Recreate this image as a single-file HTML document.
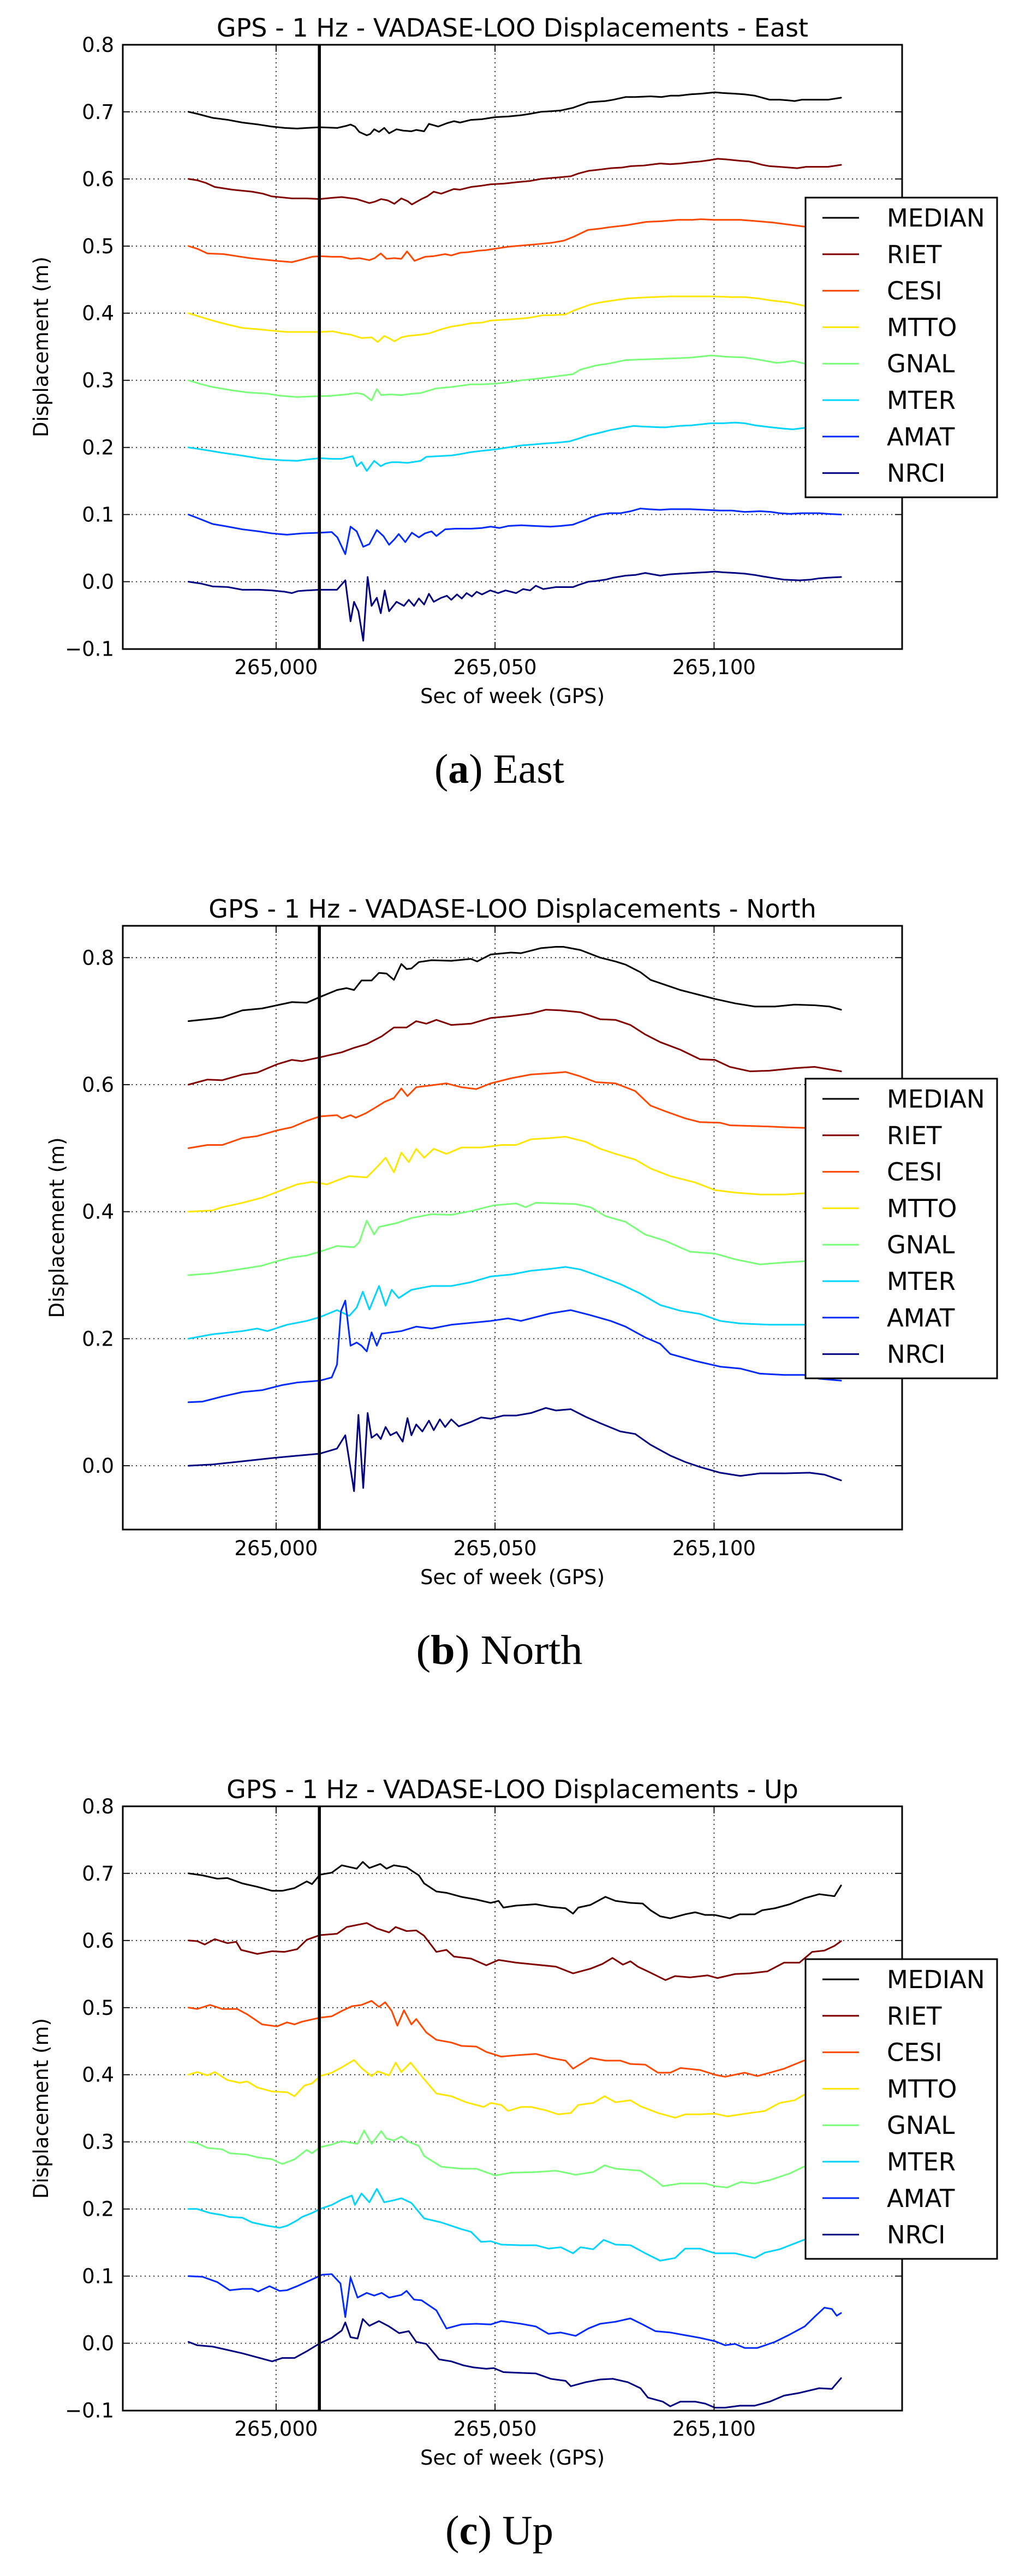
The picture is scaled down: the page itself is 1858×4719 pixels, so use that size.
<!DOCTYPE html>
<html><head><meta charset="utf-8"><title>VADASE-LOO Displacements</title>
<style>
html,body{margin:0;padding:0;background:#fff;}
svg{display:block;}
.t{font-family:"DejaVu Sans","Liberation Sans",sans-serif;fill:#000;}
.cap{font-family:"Liberation Serif","DejaVu Serif",serif;fill:#000;}
.g{stroke:#000;stroke-width:1.8;stroke-dasharray:2.2,5.8;fill:none;opacity:0.85}
.tk{stroke:#000;stroke-width:1.8;}
.s{fill:none;stroke-width:3;stroke-linejoin:round;stroke-linecap:round;}
</style></head>
<body>
<svg xmlns="http://www.w3.org/2000/svg" width="1858" height="4719" viewBox="0 0 1858 4719">
<rect x="0" y="0" width="1858" height="4719" fill="#fff"/>

<!-- ================= CHART A (East) ================= -->
<g>
<text class="t" x="939" y="67" font-size="46" text-anchor="middle">GPS - 1 Hz - VADASE-LOO Displacements - East</text>
<!-- y grid -->
<g class="g">
<line x1="225" y1="204.8" x2="1653" y2="204.8"/><line x1="225" y1="327.8" x2="1653" y2="327.8"/>
<line x1="225" y1="450.8" x2="1653" y2="450.8"/><line x1="225" y1="573.7" x2="1653" y2="573.7"/>
<line x1="225" y1="696.7" x2="1653" y2="696.7"/><line x1="225" y1="819.7" x2="1653" y2="819.7"/>
<line x1="225" y1="942.6" x2="1653" y2="942.6"/><line x1="225" y1="1065.6" x2="1653" y2="1065.6"/>
<line x1="505.9" y1="82" x2="505.9" y2="1189"/><line x1="907.1" y1="82" x2="907.1" y2="1189"/><line x1="1308.4" y1="82" x2="1308.4" y2="1189"/>
</g>
<g transform="translate(505.9,1065.6) scale(8.025,-1.2297)">
<polyline class="s" vector-effect="non-scaling-stroke" stroke="#000000" points="-20,700 -18,697 -14.5,691 -11,688 -7.7,684 -4,681 -1,678 2,676 4.8,675 7,676 10,677 14,676 16,679 17,681 18,678 19,670 20.7,665 21.5,667 22.4,674 23.5,670 24.7,676 25.8,668 27.5,674 29,672 30.9,671 32,673 33.8,671 34.9,682 36,680 37,678 39,683 40.6,686 42,684 44.5,688 47,689 50,692 53,693 56,695 58,697 60.5,700 63,701 65,702 67.8,706 69.5,710 71.3,714 73,715 75.2,716 77,718 79.8,722 82,722 85.5,723 88,722 90,724 92,724 94.5,726 97,727 100.2,729 102,728 104.8,727 107,726 109.3,724 111,721 112.7,718 115,718 117,717 118.4,716 120,718 123,718 126,718 129,721"/>
<polyline class="s" vector-effect="non-scaling-stroke" stroke="#800000" points="-20,600 -18,598 -16,594 -14,588 -10,584 -5.5,581 -3,578 -1,574 3.6,571 7,571 10,570 13,572 15,573 18.4,570 21.3,564 22.5,566 24,570 25.5,568 27,563 28.6,571 30,567 31,562 33.2,570 34.5,574 36,581 37.7,578 40.6,585 42,584 44.5,588 47,590 49,592 52,593 54.8,595 58,597 60.5,600 64,602 67.3,604 69,608 71.3,612 74,614 76.4,616 79,617 81,619 84,620 87.7,623 90,622 92.3,623 95,625 96.8,626 99,628 100.8,630 103,629 106,627 108,626 109.3,624 111,621 112.7,619 115,618 117,617 119,616 121,618 124,618 126,618 129,621"/>
<polyline class="s" vector-effect="non-scaling-stroke" stroke="#ff4900" points="-20,500 -18,496 -15.7,489 -12,488 -8,484 -6,482 -3,480 0,478 3.6,476 6,480 8.2,484 10,485 12.7,484 15,484 17,481 19,482 21.3,479 22.5,482 23.9,489 25.2,481 27,482 28.6,481 29.9,492 31.6,478 34,484 36,485 38.6,488 40,486 42,490 44,491 46,493 48,494 50,496 53,499 56.5,501 60,503 63,505 65.7,508 68,514 71.2,524 74,526 76,528 80,531 84.5,536 88,537 91.7,539 95,539 97,540 100,539 103,539 106,539 110,537 113.5,535 117,532 120.6,529 124,527 129,526"/>
<polyline class="s" vector-effect="non-scaling-stroke" stroke="#ffe600" points="-20,400 -18,396 -14.5,389 -11,383 -7.7,378 -4,376 -1,374 2.5,372 6,372 10,372 13,373 15,370 17,368 19.5,363 21.8,364 23.2,357 24.7,366 26,362 27,358 28.6,364 30,366 33,368 35,370 37.7,376 40,380 42,382 44.5,385 47,386 49,389 51.4,390 54,391 57.6,393 61,397 63,397 66,398 68,404 71.8,413 74,416 77,419 80.3,422 83,423 86,424 90,425 95,425 100,425 104,424 107,424 110,422 113,419 117,416 120.6,411 124,410 129,409"/>
<polyline class="s" vector-effect="non-scaling-stroke" stroke="#7bff7b" points="-20,300 -17,294 -14.5,290 -10,285 -6.6,282 -2,280 1,277 4.8,275 8,276 12.7,277 16,279 18.4,281 20,279 21.8,270 23,287 24,278 26,279 28.6,278 31,280 33,281 35,285 36.6,288 40,290 44.5,294 47,294 50,295 53,297 56,300 59,302 61.6,304 64,306 67.7,309 69.5,316 73,322 76,325 79.7,330 83,331 87.6,332 92,333 95,334 99.3,337 103,335 107,334 110,331 114.3,326 116,327 118,329 120.6,325 124,324 129,324"/>
<polyline class="s" vector-effect="non-scaling-stroke" stroke="#00d4ff" points="-20,200 -16,196 -12.3,192 -8,188 -3.2,183 1,181 4.8,180 7,182 10,184 13,183 15,183 17.5,187 18.4,172 19.5,178 20.7,165 22.4,180 23.9,172 25,176 26.4,178 28,178 30,177 33,180 34.3,186 37,187 40,188 42,190 44.5,193 47,195 50,197 53,200 56,203 58,204 61.6,206 64,207 67,209 69,213 71.3,218 74,222 76.4,226 79,229 81.6,232 84,231 87.7,230 89,230 92,232 95,233 99.3,236 102,236 104.8,237 107,236 109.3,233 113,230 116,228 118,227 120.5,229 124,229 129,229"/>
<polyline class="s" vector-effect="non-scaling-stroke" stroke="#002aff" points="-20,100 -18,95 -14.5,86 -11,82 -7.7,78 -4,75 -1,72 2.5,70 6,72 10,73 12.7,74 14,66 15.8,41 17,82 18.4,75 19.9,52 21.3,56 23,77 24.5,68 25.8,55 27,63 28,71 29.5,59 31,73 32.6,66 34,72 35.5,75 36.6,68 38.6,78 41,79 44.5,79 47,80 49,82 51,80 53,83 56,84 59,83 62.7,82 65,83 67.8,85 69,88 70.7,92 72,96 74,100 76,102 78.6,102 81,105 83.2,109 85,108 87.7,107 90,108 94.5,108 98,107 101.4,106 104,106 107,104 110.5,105 113,104 115,102 117.3,101 120,102 124,102 126,101 129,100"/>
<polyline class="s" vector-effect="non-scaling-stroke" stroke="#000080" points="-20,0 -17,-3 -14.5,-7 -11,-8 -7.7,-12 -4,-12 -1,-13 2,-15 3.6,-17 5,-14 7,-13 10,-12 13.9,-12 15.8,2 17,-59 17.8,-30 18.8,-44 19.9,-88 20.9,7 21.8,-36 23,-24 23.9,-47 24.8,-13 25.8,-44 27.5,-30 29.2,-36 30.3,-27 31.5,-36 32.6,-25 33.8,-34 34.9,-18 36,-30 37.7,-24 39,-21 40,-27 41.3,-19 42.4,-25 43.5,-17 44.7,-22 45.8,-15 47,-19 48.9,-13 50.7,-17 52.4,-13 54.8,-17 56.4,-11 58,-13 59.3,-6 61,-11 63.9,-8 67.8,-8 69,-5 71.3,0 73,1 75.2,3 77,6 79.8,9 82,10 84.3,13 86,11 87.7,9 90,11 92.3,12 95,13 98,14 100.2,15 102,14 104.8,13 107,12 109.3,10 111,8 113.9,5 116,3 119.5,2 122,3 124,5 126,6 129,7"/>
</g>
<line x1="585.2" y1="82" x2="585.2" y2="1189" stroke="#000" stroke-width="5.5"/>
<!-- ticks -->
<g class="tk">
<line x1="225" y1="204.8" x2="238" y2="204.8"/><line x1="225" y1="327.8" x2="238" y2="327.8"/><line x1="225" y1="450.8" x2="238" y2="450.8"/><line x1="225" y1="573.7" x2="238" y2="573.7"/><line x1="225" y1="696.7" x2="238" y2="696.7"/><line x1="225" y1="819.7" x2="238" y2="819.7"/><line x1="225" y1="942.6" x2="238" y2="942.6"/><line x1="225" y1="1065.6" x2="238" y2="1065.6"/>
<line x1="1640" y1="204.8" x2="1653" y2="204.8"/><line x1="1640" y1="327.8" x2="1653" y2="327.8"/><line x1="1640" y1="450.8" x2="1653" y2="450.8"/><line x1="1640" y1="573.7" x2="1653" y2="573.7"/><line x1="1640" y1="696.7" x2="1653" y2="696.7"/><line x1="1640" y1="819.7" x2="1653" y2="819.7"/><line x1="1640" y1="942.6" x2="1653" y2="942.6"/><line x1="1640" y1="1065.6" x2="1653" y2="1065.6"/>
<line x1="505.9" y1="1189" x2="505.9" y2="1176"/><line x1="907.1" y1="1189" x2="907.1" y2="1176"/><line x1="1308.4" y1="1189" x2="1308.4" y2="1176"/>
<line x1="505.9" y1="82" x2="505.9" y2="95"/><line x1="907.1" y1="82" x2="907.1" y2="95"/><line x1="1308.4" y1="82" x2="1308.4" y2="95"/>
</g>
<rect x="225" y="82" width="1428" height="1107" fill="none" stroke="#000" stroke-width="3"/>
<g class="t" font-size="37" text-anchor="end">
<text x="209" y="94.8">0.8</text><text x="209" y="217.8">0.7</text><text x="209" y="340.8">0.6</text><text x="209" y="463.8">0.5</text><text x="209" y="586.7">0.4</text><text x="209" y="709.7">0.3</text><text x="209" y="832.7">0.2</text><text x="209" y="955.6">0.1</text><text x="209" y="1078.6">0.0</text><text x="209" y="1201.6">−0.1</text>
</g>
<g class="t" font-size="37" text-anchor="middle">
<text x="505.9" y="1235">265,000</text><text x="907.1" y="1235">265,050</text><text x="1308.4" y="1235">265,100</text>
<text x="939" y="1288">Sec of week (GPS)</text>
</g>
<text class="t" font-size="37" text-anchor="middle" transform="translate(88,635.5) rotate(-90)">Displacement (m)</text>
<!-- legend -->
<rect x="1476" y="362" width="351" height="549" fill="#fff" stroke="#000" stroke-width="3"/>
<g stroke-width="3">
<line x1="1507" y1="399" x2="1574" y2="399" stroke="#000000"/>
<line x1="1507" y1="465.8" x2="1574" y2="465.8" stroke="#800000"/>
<line x1="1507" y1="532.6" x2="1574" y2="532.6" stroke="#ff4900"/>
<line x1="1507" y1="599.4" x2="1574" y2="599.4" stroke="#ffe600"/>
<line x1="1507" y1="666.2" x2="1574" y2="666.2" stroke="#7bff7b"/>
<line x1="1507" y1="733" x2="1574" y2="733" stroke="#00d4ff"/>
<line x1="1507" y1="799.8" x2="1574" y2="799.8" stroke="#002aff"/>
<line x1="1507" y1="866.6" x2="1574" y2="866.6" stroke="#000080"/>
</g>
<g class="t" font-size="45">
<text x="1625" y="415">MEDIAN</text><text x="1625" y="481.8">RIET</text><text x="1625" y="548.6">CESI</text><text x="1625" y="615.4">MTTO</text><text x="1625" y="682.2">GNAL</text><text x="1625" y="749">MTER</text><text x="1625" y="815.8">AMAT</text><text x="1625" y="882.6">NRCI</text>
</g>
<text class="cap" x="915" y="1434" font-size="76" text-anchor="middle" textLength="238" lengthAdjust="spacingAndGlyphs">(<tspan font-weight="bold">a</tspan>) East</text>
</g>

<!-- ================= CHART B (North) ================= -->
<g>
<text class="t" x="939" y="1681" font-size="46" text-anchor="middle">GPS - 1 Hz - VADASE-LOO Displacements - North</text>
<g class="g">
<line x1="225" y1="1754.3" x2="1653" y2="1754.3"/><line x1="225" y1="1987" x2="1653" y2="1987"/>
<line x1="225" y1="2219.7" x2="1653" y2="2219.7"/><line x1="225" y1="2452.4" x2="1653" y2="2452.4"/>
<line x1="225" y1="2685.1" x2="1653" y2="2685.1"/>
<line x1="505.9" y1="1696" x2="505.9" y2="2802"/><line x1="907.1" y1="1696" x2="907.1" y2="2802"/><line x1="1308.4" y1="1696" x2="1308.4" y2="2802"/>
</g>
<g transform="translate(505.9,2685.1) scale(8.025,-1.1635)">
<polyline class="s" vector-effect="non-scaling-stroke" stroke="#000000" points="-20,700 -14.5,704 -12.3,706 -7.7,717 -3.2,720 0.2,725 3.6,730 7,729 10,738 13.9,749 16.1,752 17.8,749 19.5,764 21.8,764 23.5,776 25.2,775 26.9,765 28.6,790 29.8,782 30.9,783 32.6,793 35.5,796 40,795 44.5,798 45.9,794 49,805 53.6,808 55.9,807 60.5,815 63.9,817 65.6,817 69.5,812 74,800 77.5,794 79.8,789 83.2,777 85.5,765 88.9,757 92.3,749 95.7,743 100.2,735 104.8,728 109.3,723 113.9,723 118.4,726 123,725 126.4,723 129,718"/>
<polyline class="s" vector-effect="non-scaling-stroke" stroke="#800000" points="-20,600 -15.7,608 -12.3,607 -7.7,616 -4.3,619 0.2,632 3.6,639 5.9,637 10,643 15,651 17.8,658 20.7,664 24.1,676 26.9,690 29.8,690 32,700 34.3,696 36.6,702 40,694 44.5,696 49,705 53.6,708 58.2,712 61.6,718 65,717 69.5,714 74,703 77.5,702 80.9,694 84.3,679 87.7,667 92.3,655 96.8,640 100.2,639 103.6,628 108.2,621 112.7,622 118.4,626 123,628 129,621"/>
<polyline class="s" vector-effect="non-scaling-stroke" stroke="#ff4900" points="-20,500 -15.7,505 -12.3,505 -7.7,516 -4.3,519 0.2,528 3.6,533 7,543 10,550 13.9,552 15,547 17,552 18.2,548 20.5,555 22.7,564 24.8,573 26.9,579 28.6,594 30,582 32,596 35.5,599 38.9,602 42.3,596 45.7,593 49,602 53.6,610 58.2,616 62.7,618 66.1,620 69.5,613 73,604 77.5,602 82,590 85.5,567 88.9,558 93.4,547 96.8,541 101.4,540 103.6,536 108.2,535 112.7,534 116,533 120.5,532 129,530"/>
<polyline class="s" vector-effect="non-scaling-stroke" stroke="#ffe600" points="-20,400 -14.5,402 -12.3,407 -7.7,414 -3.2,422 0.2,431 4.8,443 8.2,447 11.6,443 15,452 16.7,456 20.7,454 23,470 25,485 26.9,462 28.6,493 30.3,478 32,499 33.8,485 36,499 38.9,491 42.3,501 46.8,501 51.4,505 54.8,505 58.2,514 62.7,516 66.1,518 70.7,510 74,499 77.5,491 82,482 85.5,468 90,456 95.7,446 100.2,434 104.8,430 110.5,427 116,427 120.5,429 129,430"/>
<polyline class="s" vector-effect="non-scaling-stroke" stroke="#7bff7b" points="-20,300 -14.5,303 -7.7,310 -3.2,315 0.2,322 3.6,328 7,331 10,337 13.9,346 17.8,344 19,352 20.7,386 22.4,364 23.5,376 27.5,382 30.9,390 35.5,396 40,395 44.5,401 49.7,410 54.8,413 57,407 59.3,414 63.9,413 68.4,412 71.8,407 75.2,393 79.8,384 84.3,364 88.9,354 94.5,337 100.2,334 104.8,325 110.5,317 116,320 120.5,322 129,322"/>
<polyline class="s" vector-effect="non-scaling-stroke" stroke="#00d4ff" points="-20,200 -14.5,207 -7.7,212 -4.3,216 -2,212 2.5,222 7,228 10,234 13.9,245 16.7,236 18.4,249 19.8,274 21.3,246 23.5,283 25,252 26.4,277 28,264 30.9,277 35.5,283 40,283 44.5,289 49,298 53.6,301 58.2,307 62.7,310 66.1,313 69.5,309 74,298 78.6,286 83.2,271 87.7,253 92.3,244 96.8,239 101.4,228 106,224 112.7,222 120.5,222 129,222"/>
<polyline class="s" vector-effect="non-scaling-stroke" stroke="#002aff" points="-20,100 -16.8,101 -12.3,109 -7.7,116 -3.2,119 1.4,127 4.8,131 10,134 12.7,139 13.9,159 14.8,243 15.8,260 17,189 18.4,194 19.5,189 20.7,180 21.8,210 23,189 24.1,208 28.6,212 32,219 35.5,216 40,222 44.5,225 49,228 53,232 55.9,228 59.3,234 62.7,240 67.3,245 71.8,237 76.4,228 79.8,219 84.3,202 87.7,192 90,176 95.7,165 101.4,156 106,153 110.5,145 116,143 120.5,143 124,137 129,134"/>
<polyline class="s" vector-effect="non-scaling-stroke" stroke="#000080" points="-20,0 -14.5,2 -7.7,7 -1,12 3.6,15 10,19 13.9,27 15.8,48 17.8,-40 18.8,80 19.9,-35 20.9,83 21.8,44 23,50 23.9,42 25,61 26.1,48 27.5,53 28.9,38 30,75 30.9,48 32,65 33.4,54 34.9,71 36,56 37.4,73 38.6,61 40,73 41.7,62 44.5,69 46.8,76 49,74 51.9,79 54.8,79 58.2,83 61.6,91 63.9,87 67.3,89 70.7,77 74,67 78.6,54 82,50 85.5,33 90,16 93.4,6 96.8,-2 101.4,-11 106,-16 110.5,-12 116,-12 121.8,-11 125.2,-14 129,-23"/>
</g>
<line x1="585.2" y1="1696" x2="585.2" y2="2802" stroke="#000" stroke-width="5.5"/>
<g class="tk">
<line x1="225" y1="1754.3" x2="238" y2="1754.3"/><line x1="225" y1="1987" x2="238" y2="1987"/><line x1="225" y1="2219.7" x2="238" y2="2219.7"/><line x1="225" y1="2452.4" x2="238" y2="2452.4"/><line x1="225" y1="2685.1" x2="238" y2="2685.1"/>
<line x1="1640" y1="1754.3" x2="1653" y2="1754.3"/><line x1="1640" y1="1987" x2="1653" y2="1987"/><line x1="1640" y1="2219.7" x2="1653" y2="2219.7"/><line x1="1640" y1="2452.4" x2="1653" y2="2452.4"/><line x1="1640" y1="2685.1" x2="1653" y2="2685.1"/>
<line x1="505.9" y1="2802" x2="505.9" y2="2789"/><line x1="907.1" y1="2802" x2="907.1" y2="2789"/><line x1="1308.4" y1="2802" x2="1308.4" y2="2789"/>
<line x1="505.9" y1="1696" x2="505.9" y2="1709"/><line x1="907.1" y1="1696" x2="907.1" y2="1709"/><line x1="1308.4" y1="1696" x2="1308.4" y2="1709"/>
</g>
<rect x="225" y="1696" width="1428" height="1106" fill="none" stroke="#000" stroke-width="3"/>
<g class="t" font-size="37" text-anchor="end">
<text x="209" y="1767.3">0.8</text><text x="209" y="2000">0.6</text><text x="209" y="2232.7">0.4</text><text x="209" y="2465.4">0.2</text><text x="209" y="2698.1">0.0</text>
</g>
<g class="t" font-size="37" text-anchor="middle">
<text x="505.9" y="2849">265,000</text><text x="907.1" y="2849">265,050</text><text x="1308.4" y="2849">265,100</text>
<text x="939" y="2902">Sec of week (GPS)</text>
</g>
<text class="t" font-size="37" text-anchor="middle" transform="translate(117,2249) rotate(-90)">Displacement (m)</text>
<rect x="1476" y="1976" width="351" height="549" fill="#fff" stroke="#000" stroke-width="3"/>
<g stroke-width="3">
<line x1="1507" y1="2013" x2="1574" y2="2013" stroke="#000000"/>
<line x1="1507" y1="2079.8" x2="1574" y2="2079.8" stroke="#800000"/>
<line x1="1507" y1="2146.6" x2="1574" y2="2146.6" stroke="#ff4900"/>
<line x1="1507" y1="2213.4" x2="1574" y2="2213.4" stroke="#ffe600"/>
<line x1="1507" y1="2280.2" x2="1574" y2="2280.2" stroke="#7bff7b"/>
<line x1="1507" y1="2347" x2="1574" y2="2347" stroke="#00d4ff"/>
<line x1="1507" y1="2413.8" x2="1574" y2="2413.8" stroke="#002aff"/>
<line x1="1507" y1="2480.6" x2="1574" y2="2480.6" stroke="#000080"/>
</g>
<g class="t" font-size="45">
<text x="1625" y="2029">MEDIAN</text><text x="1625" y="2095.8">RIET</text><text x="1625" y="2162.6">CESI</text><text x="1625" y="2229.4">MTTO</text><text x="1625" y="2296.2">GNAL</text><text x="1625" y="2363">MTER</text><text x="1625" y="2429.8">AMAT</text><text x="1625" y="2496.6">NRCI</text>
</g>
<text class="cap" x="915" y="3048" font-size="76" text-anchor="middle" textLength="305" lengthAdjust="spacingAndGlyphs">(<tspan font-weight="bold">b</tspan>) North</text>
</g>

<!-- ================= CHART C (Up) ================= -->
<g>
<text class="t" x="939" y="3294" font-size="46" text-anchor="middle">GPS - 1 Hz - VADASE-LOO Displacements - Up</text>
<g class="g">
<line x1="225" y1="3431.8" x2="1653" y2="3431.8"/><line x1="225" y1="3554.8" x2="1653" y2="3554.8"/>
<line x1="225" y1="3677.8" x2="1653" y2="3677.8"/><line x1="225" y1="3800.7" x2="1653" y2="3800.7"/>
<line x1="225" y1="3923.7" x2="1653" y2="3923.7"/><line x1="225" y1="4046.7" x2="1653" y2="4046.7"/>
<line x1="225" y1="4169.6" x2="1653" y2="4169.6"/><line x1="225" y1="4292.6" x2="1653" y2="4292.6"/>
<line x1="505.9" y1="3309" x2="505.9" y2="4416"/><line x1="907.1" y1="3309" x2="907.1" y2="4416"/><line x1="1308.4" y1="3309" x2="1308.4" y2="4416"/>
</g>
<g transform="translate(505.9,4292.6) scale(8.025,-1.2297)">
<polyline class="s" vector-effect="non-scaling-stroke" stroke="#000000" points="-20,700 -16.8,697 -13.4,692 -11.1,693 -7.7,685 -4.3,680 -0.9,674 1.4,674 4.2,678 7,688 8.2,684 10,698 12.7,701 15,712 18.4,707 19.8,717 21.3,708 23.8,714 25.2,707 26.9,712 29.8,709 32.6,697 33.8,685 36.6,673 38.9,671 42.3,665 45.7,661 49,656 50.8,659 51.9,649 54.8,652 59.3,654 62.7,650 66.1,648 67.8,640 69,649 71.8,653 75.2,665 77.5,659 80.9,656 83.7,655 85.5,645 87.7,636 90,633 93.4,639 95.7,642 98,638 100.2,638 103.6,633 105.9,639 109.3,639 111,645 113.9,648 117.3,654 120.7,663 124,669 127.5,666 129,682"/>
<polyline class="s" vector-effect="non-scaling-stroke" stroke="#800000" points="-20,600 -18,599 -16.3,594 -14,602 -11.1,596 -9.1,598 -8,586 -4.3,580 -0.9,584 1.9,583 4.8,587 7,601 10,608 13.9,610 16.1,620 20.7,626 23,618 25.8,612 27.3,620 29.8,614 32,615 33.8,607 36.6,583 38.9,586 40.6,576 44.5,573 48,563 50.8,571 54.8,567 59.3,564 63.9,561 67.8,551 71.8,558 74.5,565 76.8,574 79.2,564 80.9,569 82.6,561 85.5,552 88.9,541 91.1,547 94.5,545 98.5,548 100.8,544 104.8,550 108.2,551 112.2,554 116,567 119.5,567 122.4,583 125.2,585 127.5,592 129,599"/>
<polyline class="s" vector-effect="non-scaling-stroke" stroke="#ff4900" points="-20,500 -18,498 -15.1,504 -12.3,498 -8.9,498 -6.6,490 -3.2,475 0.2,472 2.5,478 4.2,475 5.9,479 10,485 12.7,487 15,495 17.3,502 19.5,504 21.8,510 23.5,501 24.9,508 26.4,495 27.7,473 29.2,496 30.9,475 32,483 34.3,463 36.6,452 40,448 42.3,443 45.7,442 48,434 51.4,427 54.8,429 59.3,431 62.7,425 66.1,421 67.8,409 71.8,425 75.2,421 78.6,421 80.9,416 84.3,415 87.2,403 90,403 92.3,410 96.8,407 100.2,400 102.5,397 107,403 109.9,398 112.7,403 116,409 120.5,421 129,428"/>
<polyline class="s" vector-effect="non-scaling-stroke" stroke="#ffe600" points="-20,400 -18,404 -15.7,399 -14,404 -11.1,392 -8.3,388 -6.6,390 -4.3,381 -0.9,375 2.5,374 4.2,368 6.5,384 8.2,387 10,398 12.7,403 15,411 17.8,422 19.5,410 21.8,398 23.2,405 25.8,399 27.3,418 28.6,404 30.7,418 33.2,398 36.6,372 40,368 43.4,359 47.4,352 49,358 51.4,355 53,346 55.9,352 58.2,352 61.6,347 64.4,341 67.3,343 69,355 72.4,358 75,368 77.5,359 80.9,362 83.2,353 87.2,343 91.1,336 93.4,341 96.8,341 100.2,342 103,338 108.2,343 111.6,346 115,358 118.4,362 120.5,370 129,380"/>
<polyline class="s" vector-effect="non-scaling-stroke" stroke="#7bff7b" points="-20,300 -18,298 -15.7,291 -12.3,289 -10.6,283 -6.6,281 -4.3,277 -0.9,274 1.4,267 4.2,274 7,288 8.2,283 10,292 12.7,296 15,301 18.6,297 20.1,317 21.8,297 24,316 25.2,305 26.9,302 28.6,308 30.3,300 32.6,294 33.8,279 37.7,263 42.3,260 45.7,260 50,250 53.6,254 59.3,255 63.9,257 68.4,251 72.4,255 75,265 77.5,260 83.2,257 86.6,243 88.3,234 92.3,238 98,238 100.2,234 103,232 106,240 109.3,238 112.7,243 117.3,253 120.5,263 129,272"/>
<polyline class="s" vector-effect="non-scaling-stroke" stroke="#00d4ff" points="-20,200 -18,200 -15.1,194 -12.3,191 -10.6,188 -7.7,187 -5.5,180 -2,175 0.8,172 2.5,175 4.8,183 5.9,188 8.2,194 10,200 12.7,206 15,214 17.3,220 18,206 19.5,223 21.3,210 23,230 24.7,210 26.9,213 28.6,216 30.9,209 33.8,186 37.7,180 42.3,170 44.5,166 46.8,151 49,152 51.4,147 55.9,146 59.3,146 62.2,141 65,143 67.8,134 69.5,143 72.4,140 74.8,154 77.5,147 80.9,146 84.3,134 87.7,123 91.1,127 93.4,141 96.8,141 100.2,134 104.8,134 109.3,127 111.6,135 115,140 120.5,154 129,160"/>
<polyline class="s" vector-effect="non-scaling-stroke" stroke="#002aff" points="-20,100 -16.8,99 -13.4,91 -10.6,79 -7.7,81 -5.5,81 -4.1,77 -1.5,85 0.8,78 2.5,79 4.8,85 8.2,95 10.5,102 12.7,103 14.7,89 15.8,39 17,98 18.6,68 20.7,75 22.4,71 24.1,75 25.8,68 28.6,72 29.8,78 31.5,65 33.2,64 36.6,49 38.9,22 42.3,28 45.7,29 49,28 51.4,33 55.9,29 59.3,25 62.2,14 65,16 68.4,11 71.3,22 74,29 77.5,32 80.9,37 83.7,28 86.6,18 90,16 93.4,12 96.8,8 100.2,3 102.5,-3 104.8,-1 107,-7 109.9,-7 113.9,2 117.3,13 120.7,25 122.9,39 125.2,53 126.9,51 128,41 129,45"/>
<polyline class="s" vector-effect="non-scaling-stroke" stroke="#000080" points="-20,2 -18,-3 -14.5,-5 -11.1,-10 -7.7,-15 -4.3,-21 -0.9,-27 1.4,-22 4.2,-22 7,-12 10,0 12.7,8 15,19 15.8,31 17,9 18.6,7 19.8,36 21.3,26 23.5,33 25.8,25 28.1,15 30.3,18 32,2 34.3,-1 37.2,-24 40,-27 42.8,-33 45.1,-36 48,-38 49.7,-37 51.9,-43 55.3,-44 59.3,-45 62.7,-53 66.1,-56 67.3,-64 70.7,-58 74,-54 76.9,-53 80.3,-58 83.2,-67 84.9,-81 88.3,-87 90,-94 92.3,-87 95.7,-87 98,-90 100.2,-96 102.5,-96 105.9,-93 109.3,-93 112.7,-87 116,-78 119.5,-74 124,-67 126.9,-68 129,-52"/>
</g>
<line x1="585.2" y1="3309" x2="585.2" y2="4416" stroke="#000" stroke-width="5.5"/>
<g class="tk">
<line x1="225" y1="3431.8" x2="238" y2="3431.8"/><line x1="225" y1="3554.8" x2="238" y2="3554.8"/><line x1="225" y1="3677.8" x2="238" y2="3677.8"/><line x1="225" y1="3800.7" x2="238" y2="3800.7"/><line x1="225" y1="3923.7" x2="238" y2="3923.7"/><line x1="225" y1="4046.7" x2="238" y2="4046.7"/><line x1="225" y1="4169.6" x2="238" y2="4169.6"/><line x1="225" y1="4292.6" x2="238" y2="4292.6"/>
<line x1="1640" y1="3431.8" x2="1653" y2="3431.8"/><line x1="1640" y1="3554.8" x2="1653" y2="3554.8"/><line x1="1640" y1="3677.8" x2="1653" y2="3677.8"/><line x1="1640" y1="3800.7" x2="1653" y2="3800.7"/><line x1="1640" y1="3923.7" x2="1653" y2="3923.7"/><line x1="1640" y1="4046.7" x2="1653" y2="4046.7"/><line x1="1640" y1="4169.6" x2="1653" y2="4169.6"/><line x1="1640" y1="4292.6" x2="1653" y2="4292.6"/>
<line x1="505.9" y1="4416" x2="505.9" y2="4403"/><line x1="907.1" y1="4416" x2="907.1" y2="4403"/><line x1="1308.4" y1="4416" x2="1308.4" y2="4403"/>
<line x1="505.9" y1="3309" x2="505.9" y2="3322"/><line x1="907.1" y1="3309" x2="907.1" y2="3322"/><line x1="1308.4" y1="3309" x2="1308.4" y2="3322"/>
</g>
<rect x="225" y="3309" width="1428" height="1107" fill="none" stroke="#000" stroke-width="3"/>
<g class="t" font-size="37" text-anchor="end">
<text x="209" y="3321.8">0.8</text><text x="209" y="3444.8">0.7</text><text x="209" y="3567.8">0.6</text><text x="209" y="3690.8">0.5</text><text x="209" y="3813.7">0.4</text><text x="209" y="3936.7">0.3</text><text x="209" y="4059.7">0.2</text><text x="209" y="4182.6">0.1</text><text x="209" y="4305.6">0.0</text><text x="209" y="4428.6">−0.1</text>
</g>
<g class="t" font-size="37" text-anchor="middle">
<text x="505.9" y="4462">265,000</text><text x="907.1" y="4462">265,050</text><text x="1308.4" y="4462">265,100</text>
<text x="939" y="4515">Sec of week (GPS)</text>
</g>
<text class="t" font-size="37" text-anchor="middle" transform="translate(88,3862.5) rotate(-90)">Displacement (m)</text>
<rect x="1476" y="3589" width="351" height="549" fill="#fff" stroke="#000" stroke-width="3"/>
<g stroke-width="3">
<line x1="1507" y1="3626" x2="1574" y2="3626" stroke="#000000"/>
<line x1="1507" y1="3692.8" x2="1574" y2="3692.8" stroke="#800000"/>
<line x1="1507" y1="3759.6" x2="1574" y2="3759.6" stroke="#ff4900"/>
<line x1="1507" y1="3826.4" x2="1574" y2="3826.4" stroke="#ffe600"/>
<line x1="1507" y1="3893.2" x2="1574" y2="3893.2" stroke="#7bff7b"/>
<line x1="1507" y1="3960" x2="1574" y2="3960" stroke="#00d4ff"/>
<line x1="1507" y1="4026.8" x2="1574" y2="4026.8" stroke="#002aff"/>
<line x1="1507" y1="4093.6" x2="1574" y2="4093.6" stroke="#000080"/>
</g>
<g class="t" font-size="45">
<text x="1625" y="3642">MEDIAN</text><text x="1625" y="3708.8">RIET</text><text x="1625" y="3775.6">CESI</text><text x="1625" y="3842.4">MTTO</text><text x="1625" y="3909.2">GNAL</text><text x="1625" y="3976">MTER</text><text x="1625" y="4042.8">AMAT</text><text x="1625" y="4109.6">NRCI</text>
</g>
<text class="cap" x="915" y="4661" font-size="76" text-anchor="middle" textLength="198" lengthAdjust="spacingAndGlyphs">(<tspan font-weight="bold">c</tspan>) Up</text>
</g>
</svg>
</body></html>
